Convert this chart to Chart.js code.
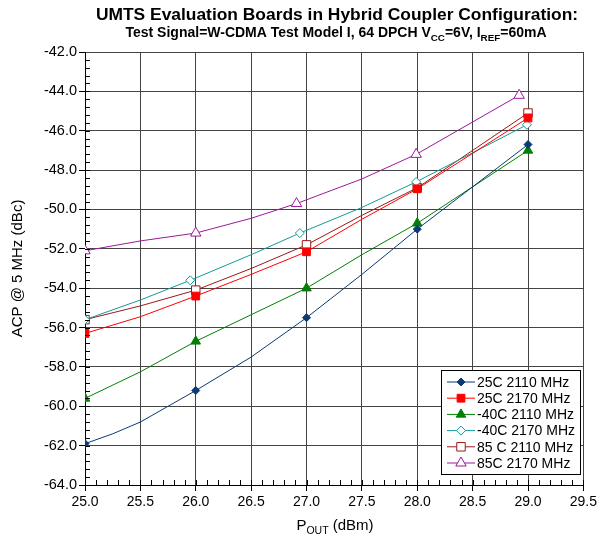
<!DOCTYPE html>
<html>
<head>
<meta charset="utf-8">
<script src="https://cdn.jsdelivr.net/npm/chart.js@4/dist/chart.umd.min.js"></script>
<style>
  html, body { margin: 0; padding: 0; background: #fff; }
  #wrap { width: 600px; height: 546px; }
</style>
</head>
<body>
<div id="wrap"><canvas id="myChart" width="600" height="546"></canvas></div>
<script>
// Values (P_OUT in dBm, ACP in dBc)
const xStd = [25, 25.5, 26, 26.5, 27, 27.5, 28, 29];
const xBlue = [25, 25.25, 25.5, 26, 26.5, 27, 27.5, 28, 29];
const xCyan = [25, 25.5, 25.95, 26.5, 26.94, 27.5, 27.99, 28.99];
const xPurple = [25, 25.5, 26, 26.5, 26.91, 27.5, 27.99, 28.92];

const acp25_2110 = [-61.9, -61.4, -60.8, -59.2, -57.5, -55.5, -53.3, -51.0, -46.7];
const acp25_2170 = [-56.3, -55.45, -54.4, -53.3, -52.15, -50.5, -48.95, -45.35];
const acpM40_2110 = [-59.6, -58.25, -56.7, -55.35, -54.0, -52.3, -50.7, -47.0];
const acpM40_2170 = [-55.6, -54.6, -53.6, -52.3, -51.2, -49.9, -48.6, -45.7];
const acp85_2110 = [-55.6, -54.9, -54.1, -53.0, -51.8, -50.3, -48.9, -45.1];
const acp85_2170 = [-52.1, -51.6, -51.2, -50.45, -49.7, -48.45, -47.2, -44.2];

// markers only where the reference shows them
const markedX = [25, 25.95, 26, 26.91, 26.94, 27, 27.99, 28, 28.92, 28.99, 29];

const FONT = '"Liberation Sans", Arial, sans-serif';

function toPoints(xs, ys) {
    return xs.map((x, i) => ({ x: x, y: ys[i] }));
}

function makeSet(label, xs, ys, color, style, radius, filled) {
    return {
        label: label,
        data: toPoints(xs, ys),
        borderColor: color,
        backgroundColor: color,
        borderWidth: 1,
        showLine: true,
        pointStyle: style,
        pointRadius: xs.map(x => markedX.includes(x) ? radius : 0),
        pointBackgroundColor: filled ? color : '#fff',
        pointBorderColor: color,
        pointBorderWidth: 1,
        tension: 0
    };
}

const datasets = [
    makeSet('25C 2110 MHz', xBlue, acp25_2110, '#0b3a75', 'rectRot', 4, true),
    makeSet('25C 2170 MHz', xStd, acp25_2170, '#ff0000', 'rect', 5.5, true),
    makeSet('-40C 2110 MHz', xStd, acpM40_2110, '#008000', 'triangle', 5.5, true),
    makeSet('-40C 2170 MHz', xCyan, acpM40_2170, '#159a9a', 'rectRot', 4.5, false),
    makeSet('85 C 2110 MHz', xStd, acp85_2110, '#991a1a', 'rect', 6, false),
    makeSet('85C 2170 MHz', xPurple, acp85_2170, '#9a1a9a', 'triangle', 6, false)
];

// draw a string made of [text, isSubscript] parts
function partsWidth(ctx, parts, size, weight) {
    let w = 0;
    parts.forEach(p => {
        ctx.font = weight + ' ' + (p[1] ? size * 0.7 : size) + 'px ' + FONT;
        w += ctx.measureText(p[0]).width;
    });
    return w;
}
function drawParts(ctx, parts, cx, y, size, weight) {
    let x = cx - partsWidth(ctx, parts, size, weight) / 2;
    ctx.textAlign = 'left';
    ctx.textBaseline = 'alphabetic';
    parts.forEach(p => {
        const s = p[1] ? size * 0.7 : size;
        ctx.font = weight + ' ' + s + 'px ' + FONT;
        ctx.fillText(p[0], x, y + (p[1] ? size * 0.25 : 0));
        x += ctx.measureText(p[0]).width;
    });
}

const extras = {
    id: 'extras',
    afterDraw(chart) {
        const ctx = chart.ctx;
        const area = chart.chartArea;
        const xs = chart.scales.x, ys = chart.scales.y;
        ctx.save();
        ctx.fillStyle = '#000';
        // titles
        drawParts(ctx, [['UMTS Evaluation Boards in Hybrid Coupler Configuration:', false]], 337, 20, 17.4, 'bold');
        drawParts(ctx, [['Test Signal=W-CDMA Test Model I, 64 DPCH V', false], ['CC', true],
            ['=6V, I', false], ['REF', true], ['=60mA', false]], 336, 37, 14, 'bold');
        // axis titles
        drawParts(ctx, [['P', false], ['OUT', true], [' (dBm)', false]], 335, 530, 15, 'normal');
        ctx.save();
        ctx.translate(22, (area.top + area.bottom) / 2);
        ctx.rotate(-Math.PI / 2);
        drawParts(ctx, [['ACP @ 5 MHz (dBc)', false]], 0, 0, 15, 'normal');
        ctx.restore();

        // minor ticks, pointing into the plot
        ctx.strokeStyle = '#000';
        ctx.lineWidth = 1;
        ctx.beginPath();
        for (let v = -64; v <= -42.001; v += 0.4) {
            const py = Math.round(ys.getPixelForValue(v)) + 0.5;
            ctx.moveTo(area.left, py);
            ctx.lineTo(area.left + 5, py);
        }
        for (let v = 25; v <= 29.501; v += 0.1) {
            const px = Math.round(xs.getPixelForValue(v)) + 0.5;
            ctx.moveTo(px, area.bottom);
            ctx.lineTo(px, area.bottom - 5);
        }
        ctx.stroke();

        // legend box inside the plot
        const bx = 441, by = 370, bw = 139, bh = 104;
        ctx.fillStyle = '#fff';
        ctx.fillRect(bx, by, bw, bh);
        ctx.strokeStyle = '#000';
        ctx.strokeRect(bx + 0.5, by + 0.5, bw, bh);
        chart.data.datasets.forEach((ds, i) => {
            const ry = by + 12 + i * 16.2;
            ctx.strokeStyle = ds.borderColor;
            ctx.lineWidth = 1;
            ctx.beginPath();
            ctx.moveTo(bx + 6, ry);
            ctx.lineTo(bx + 34, ry);
            ctx.stroke();
            const mr = Math.max.apply(null, ds.pointRadius);
            ctx.fillStyle = ds.pointBackgroundColor;
            ctx.strokeStyle = ds.pointBorderColor;
            Chart.helpers.drawPoint(ctx, {
                pointStyle: ds.pointStyle, radius: mr, rotation: 0, borderWidth: 1
            }, bx + 20, ry);
            ctx.fillStyle = '#000';
            ctx.font = '14px ' + FONT;
            ctx.textBaseline = 'middle';
            ctx.textAlign = 'left';
            ctx.fillText(ds.label, bx + 36, ry + 1);
        });
        ctx.restore();
    }
};

const ctx = document.getElementById('myChart').getContext('2d');

new Chart(ctx, {
    type: 'scatter',
    data: { datasets: datasets },
    options: {
        responsive: false,
        animation: false,
        layout: { padding: { left: 30, top: 52, right: 16, bottom: 36 } },
        plugins: {
            legend: { display: false },
            title: { display: false },
            tooltip: { enabled: false }
        },
        scales: {
            x: {
                type: 'linear',
                min: 25,
                max: 29.5,
                afterFit(scale) { scale.height = 25; },
                ticks: {
                    stepSize: 0.5,
                    color: '#000',
                    font: { family: FONT, size: 14 },
                    padding: 3,
                    maxRotation: 0,
                    callback: v => v.toFixed(1)
                },
                grid: { color: '#444', lineWidth: 1, tickLength: 6, tickColor: '#000' },
                border: { color: '#000', width: 1 }
            },
            y: {
                min: -64,
                max: -42,
                afterFit(scale) { scale.width = 55; },
                ticks: {
                    stepSize: 2,
                    color: '#000',
                    font: { family: FONT, size: 14.5 },
                    padding: 2,
                    callback: v => v.toFixed(1)
                },
                grid: { color: '#444', lineWidth: 1, tickLength: 6, tickColor: '#000' },
                border: { color: '#000', width: 1 }
            }
        }
    },
    plugins: [extras]
});
</script>
</body>
</html>
